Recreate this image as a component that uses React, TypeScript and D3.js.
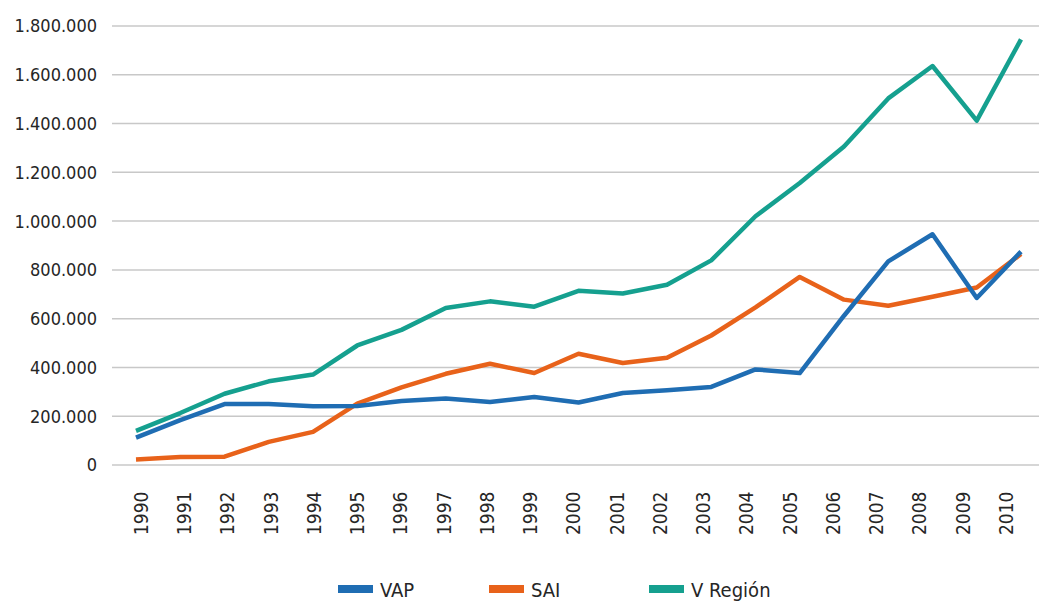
import React from "react";
import * as d3 from "d3";

// data
const years = [
  "1990", "1991", "1992", "1993", "1994", "1995", "1996", "1997", "1998", "1999", "2000",
  "2001", "2002", "2003", "2004", "2005", "2006", "2007", "2008", "2009", "2010",
];
const vap = [
  112000, 184000, 250000, 250000, 241000, 242000, 262000, 273000, 258000, 279000, 256000,
  295000, 306000, 320000, 392000, 377000, 612000, 835000, 946000, 685000, 875000,
];
const sai = [
  23000, 33000, 34000, 95000, 136000, 252000, 318000, 374000, 415000, 377000, 456000,
  418000, 440000, 531000, 646000, 771000, 678000, 653000, 690000, 728000, 865000,
];
const vRegion = [
  140000, 213000, 292000, 343000, 371000, 490000, 554000, 644000, 671000, 649000, 714000,
  703000, 739000, 839000, 1020000, 1156000, 1306000, 1503000, 1636000, 1412000, 1745000,
];
const yTicks = [0, 200000, 400000, 600000, 800000, 1000000, 1200000, 1400000, 1600000, 1800000];

const seriesNames = ["VAP", "SAI", "V Región"];
const seriesValues = [vap, sai, vRegion];
const seriesColors = ["#1f6db3", "#e8621a", "#15a08f"];

const W = 1039;
const H = 602;
const FONT = "'DejaVu Sans Condensed', 'DejaVu Sans', sans-serif";

const fmt = d3.formatLocale({
  decimal: ",",
  thousands: ".",
  grouping: [3],
  currency: ["", ""],
}).format(",");

export default function App() {
  const x = d3.scalePoint<string>().domain(years).range([136, 1021]);
  // the year labels sit on a slightly tighter spacing than the points
  const xLabel = d3.scalePoint<string>().domain(years).range([141, 1006]);
  const y = d3.scaleLinear().domain([0, 1800000]).range([465, 26]);

  const line = d3
    .line<number>()
    .x((_, i) => x(years[i]) as number)
    .y((d) => y(d));

  // draw order: V Región below, VAP on top
  const order = [2, 1, 0];

  const legendX = [338, 489, 649];

  return (
    <svg
      width={W}
      height={H}
      style={{ position: "absolute", left: 0, top: 0, background: "#fff" }}
      fontFamily={FONT}
    >
      <g>
        {yTicks.map((t) => (
          <g key={t}>
            <line x1={112} x2={1039} y1={y(t)} y2={y(t)} stroke="#c8c8c8" strokeWidth={1.5} />
            <text
              x={97}
              y={y(t)}
              dy="0.36em"
              textAnchor="end"
              fontSize={18}
              fill="#262626"
            >
              {fmt(t)}
            </text>
          </g>
        ))}
      </g>

      <g>
        {years.map((yr) => (
          <text
            key={yr}
            transform={`translate(${xLabel(yr)},535) rotate(-90)`}
            dy="0.36em"
            textAnchor="start"
            fontSize={19}
            fill="#262626"
          >
            {yr}
          </text>
        ))}
      </g>

      <g>
        {order.map((i) => (
          <path
            key={seriesNames[i]}
            d={line(seriesValues[i]) || ""}
            fill="none"
            stroke={seriesColors[i]}
            strokeWidth={4.5}
            strokeLinejoin="round"
          />
        ))}
      </g>

      <g>
        {seriesNames.map((name, i) => (
          <g key={name} transform={`translate(${legendX[i]},0)`}>
            <rect x={0} y={585} width={35} height={8} fill={seriesColors[i]} />
            <text x={42} y={597} fontSize={20} fill="#262626">
              {name}
            </text>
          </g>
        ))}
      </g>
    </svg>
  );
}
